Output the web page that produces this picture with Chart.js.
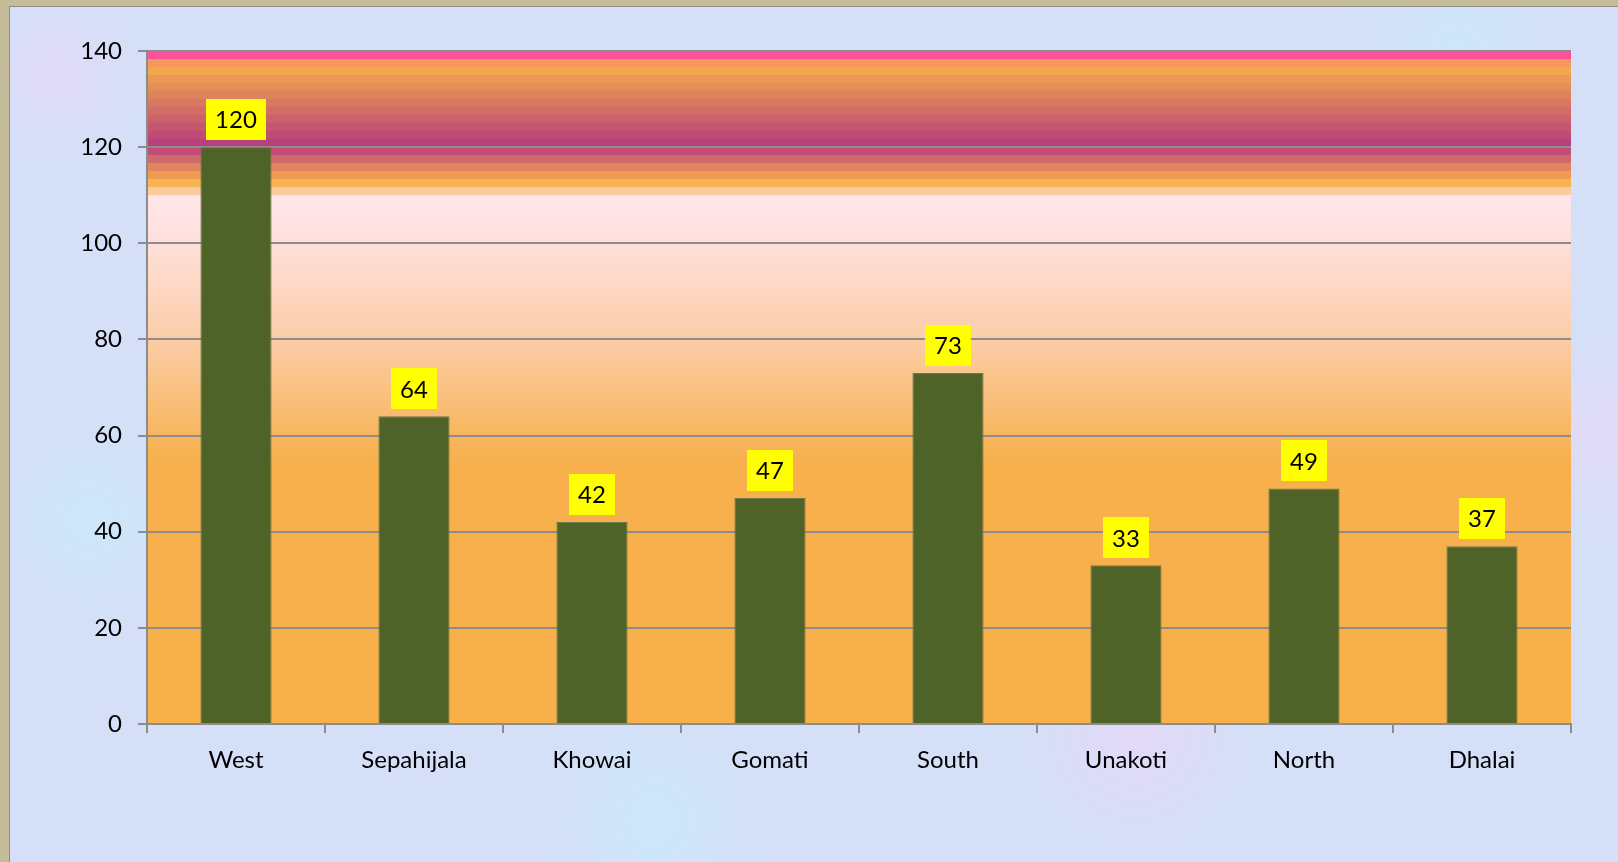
<!DOCTYPE html>
<html>
<head>
<meta charset="utf-8">
<script src="https://cdn.jsdelivr.net/npm/chart.js@4/dist/chart.umd.min.js"></script>
<style>
  html, body { margin: 0; padding: 0; width: 1618px; height: 862px; overflow: hidden; background: #C5BD9A; }
  #bg {
    position: absolute; left: 9px; top: 6px; width: 1609px; height: 856px;
    border-left: 1px solid #8c8c8c; border-top: 1px solid #8c8c8c;
    background:
      radial-gradient(circle at 20% 30%, rgba(240,210,245,0.55) 0, rgba(240,210,245,0) 90px),
      radial-gradient(circle at 70% 85%, rgba(240,210,245,0.5) 0, rgba(240,210,245,0) 110px),
      radial-gradient(circle at 40% 95%, rgba(200,235,250,0.7) 0, rgba(200,235,250,0) 120px),
      radial-gradient(circle at 5% 60%, rgba(200,235,250,0.7) 0, rgba(200,235,250,0) 110px),
      radial-gradient(circle at 90% 5%, rgba(200,235,250,0.6) 0, rgba(200,235,250,0) 120px),
      radial-gradient(circle at 99% 50%, rgba(235,215,245,0.6) 0, rgba(235,215,245,0) 100px),
      radial-gradient(circle at 3% 8%, rgba(235,215,245,0.6) 0, rgba(235,215,245,0) 80px),
      #D5DFF8;
  }
  #wrap { position: absolute; left: 0; top: 0; width: 1618px; height: 862px; }
</style>
</head>
<body>
<div id="bg"></div>
<div id="wrap"><canvas id="c" width="1618" height="862"></canvas></div>
<script>
const categories = ['West', 'Sepahijala', 'Khowai', 'Gomati', 'South', 'Unakoti', 'North', 'Dhalai'];
const values = [120, 64, 42, 47, 73, 33, 49, 37];
const yMin = 0, yMax = 140, yStep = 20;

const FONT = '"Lato", "Open Sans", sans-serif';
const FSIZE = 24;

const plotBackground = {
  id: 'plotBackground',
  beforeDraw(chart) {
    const { ctx, chartArea: a, scales: { y } } = chart;
    ctx.save();
    const g = ctx.createLinearGradient(0, y.getPixelForValue(0), 0, y.getPixelForValue(110));
    const stops = [[0, '#F7B04A'], [54, '#F7B04C'], [60, '#F8B55E'], [70, '#FAC283'], [80, '#FBCDA6'],
                   [90, '#FDD7C2'], [100, '#FEDFD9'], [105, '#FFE3E4'], [110, '#FFE6EC']];
    stops.forEach(s => g.addColorStop(s[0] / 110, s[1]));
    ctx.fillStyle = g;
    const y110 = y.getPixelForValue(110);
    ctx.fillRect(a.left, y110, a.right - a.left, a.bottom - y110);
    const bandColors = ['#FBCBA0', '#F7B355', '#EE9B50', '#E08560', '#D06A6A', '#C24E77',
                        '#B9407D', '#BF4B78', '#C55672', '#CC616C', '#D26C67', '#D87862',
                        '#DE845D', '#E48F58', '#EA9A54', '#F3A84D', '#F7975A', '#FB529B'];
    const step = 30 / bandColors.length;
    bandColors.forEach((c, i) => {
      const v0 = 110 + i * step, v1 = 110 + (i + 1) * step;
      const p0 = y.getPixelForValue(v0), p1 = y.getPixelForValue(v1);
      ctx.fillStyle = c;
      ctx.fillRect(a.left, Math.round(p1), a.right - a.left, Math.round(p0) - Math.round(p1));
    });
    ctx.restore();
  }
};

const dataLabels = {
  id: 'dataLabels',
  afterDatasetsDraw(chart) {
    const { ctx } = chart;
    const meta = chart.getDatasetMeta(0);
    ctx.save();
    ctx.font = FSIZE + 'px ' + FONT;
    ctx.textAlign = 'center';
    ctx.textBaseline = 'middle';
    meta.data.forEach((bar, i) => {
      const txt = String(chart.data.datasets[0].data[i]);
      const w = ctx.measureText(txt).width + 18;
      const h = 41;
      const bottom = bar.y - 7;
      ctx.fillStyle = '#FFFF00';
      ctx.fillRect(Math.round(bar.x - w / 2), Math.round(bottom - h), Math.round(w), h);
      ctx.fillStyle = '#000000';
      ctx.fillText(txt, bar.x, bottom - h / 2 + 1);
    });
    ctx.restore();
  }
};

new Chart(document.getElementById('c'), {
  type: 'bar',
  data: {
    labels: categories,
    datasets: [{
      data: values,
      backgroundColor: '#4F6228',
      borderColor: '#6B7A4E',
      borderWidth: 1,
      barPercentage: 0.4,
      categoryPercentage: 1.0
    }]
  },
  options: {
    responsive: false,
    animation: false,
    devicePixelRatio: 1,
    layout: { padding: { left: 0, top: 51, right: 47, bottom: 0 } },
    plugins: { legend: { display: false }, tooltip: { enabled: false } },
    scales: {
      x: {
        grid: { offset: true, drawOnChartArea: false, drawTicks: true, tickLength: 9, color: '#8C8C8C', lineWidth: 2 },
        border: { display: true, color: '#8C8C8C', width: 2 },
        ticks: { color: '#000000', font: { family: FONT, size: FSIZE }, padding: 13, maxRotation: 0 },
        afterFit(s) { s.height = 138; }
      },
      y: {
        min: yMin, max: yMax,
        grid: { drawOnChartArea: true, drawTicks: true, tickLength: 9, color: '#8C8C8C', lineWidth: 2 },
        border: { display: true, color: '#8C8C8C', width: 2 },
        ticks: { stepSize: yStep, color: '#000000', font: { family: FONT, size: FSIZE }, padding: 16 },
        afterFit(s) { s.width = 147; }
      }
    }
  },
  plugins: [plotBackground, dataLabels]
});
</script>
</body>
</html>
